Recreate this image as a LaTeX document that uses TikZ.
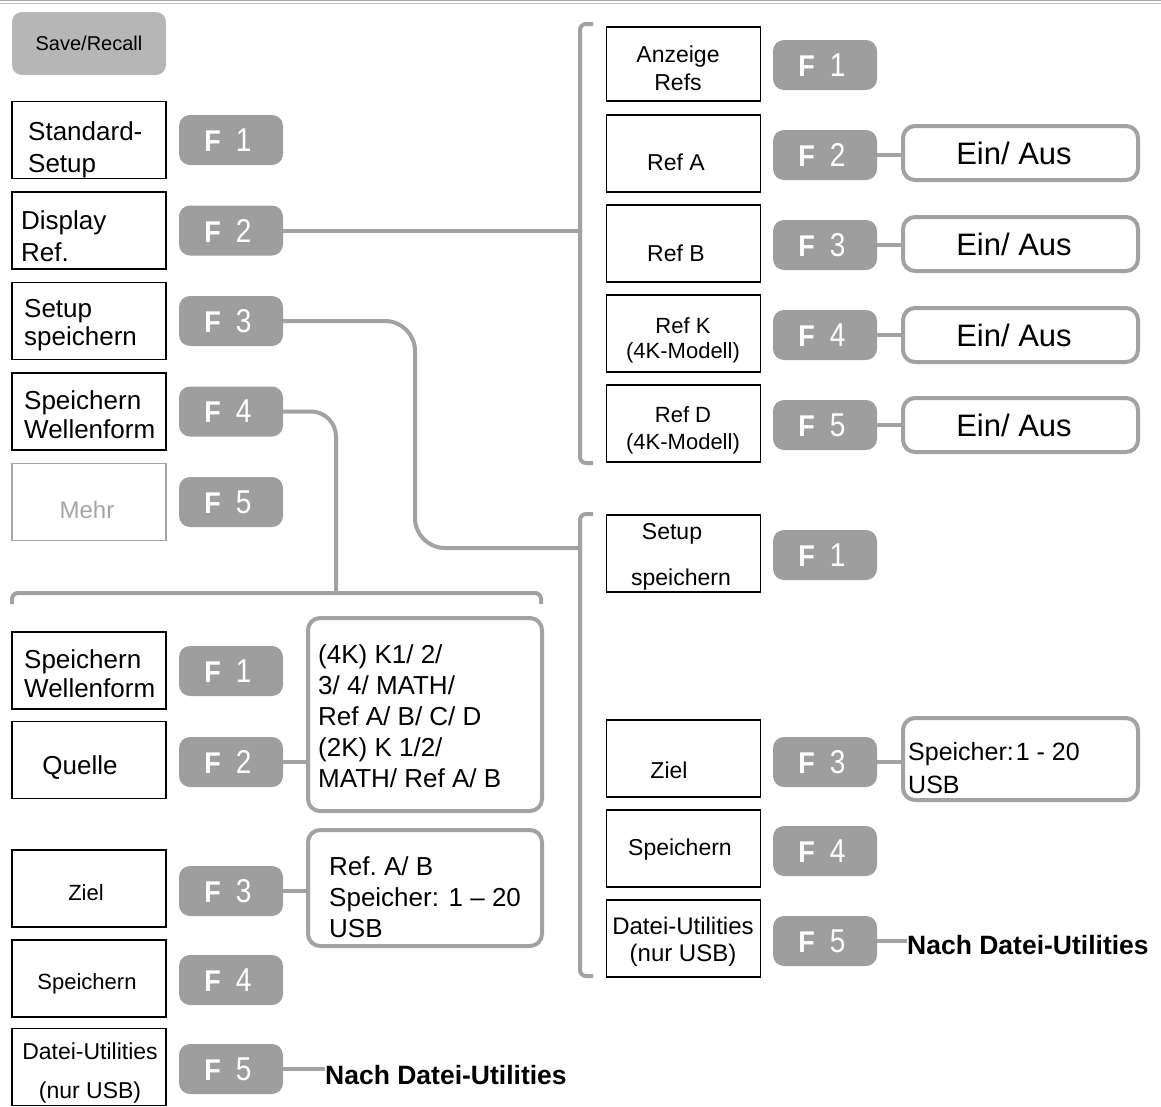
\documentclass[tikz,border=0pt]{standalone}
\usepackage{fontspec}
\setmainfont{Liberation Sans}
\usetikzlibrary{positioning,calc}

\definecolor{keygray}{RGB}{158,158,158}
\definecolor{linegray}{RGB}{162,162,162}
\definecolor{srgray}{RGB}{182,182,182}
\definecolor{mehrgray}{RGB}{165,165,165}

\tikzset{
  menubox/.style={draw=black, line width=1.6pt, minimum width=154pt, minimum height=77pt, inner sep=0pt},
  fkey/.style={fill=keygray, rounded corners=11pt, minimum width=104pt, minimum height=50pt, inner sep=0pt, text=white},
  optbox/.style={draw=linegray, line width=4pt, rounded corners=12pt, inner sep=0pt},
  link/.style={draw=linegray, line width=4pt},
  txt/.style={inner sep=0pt, font=\fontsize{26}{32}\selectfont},
  stxt/.style={inner sep=0pt, font=\fontsize{23}{28}\selectfont},
}
\newcommand{\fkey}[1]{\scalebox{0.9}[1]{\fontsize{30}{30}\selectfont\bfseries F}\hspace{15pt}\scalebox{0.85}[1]{\fontsize{33}{33}\selectfont #1}\hspace*{6pt}}

\begin{document}
\begin{tikzpicture}[x=1pt, y=-1pt]
\useasboundingbox (0,0) rectangle (1161,1106);

% Top rule
\draw[gray!70, line width=1pt] (0,0.5) -- (1161,0.5);
\draw[gray!50, line width=1pt] (0,3) -- (1161,3);

% Save/Recall key
\node[fill=srgray, rounded corners=10pt, minimum width=154pt, minimum height=63pt, inner sep=0pt,
  font=\fontsize{20}{20}\selectfont] (save) at (89,43.5) {Save/Recall};

% Main menu
\node[menubox] (m1) at (89,140) {};
\node[menubox] (m2) at (89,230.5) {};
\node[menubox] (m3) at (89,321) {};
\node[menubox] (m4) at (89,411.5) {};
\node[menubox, draw=mehrgray] (m5) at (89,502) {};
\node[txt, align=left, anchor=west] (t1) at (28,150) {Standard-\\ Setup};
\node[txt, align=left, anchor=west] (t2) at (21,236) {Display\\Ref.};
\node[txt, align=left, anchor=west, font=\fontsize{26}{28}\selectfont] (t3) at (24,325) {Setup\\speichern};
\node[txt, align=left, anchor=west, font=\fontsize{26}{29}\selectfont] (t4) at (24,415) {Speichern\\Wellenform};
\node[txt, text=mehrgray, font=\fontsize{24}{24}\selectfont] (t5) at (87,510) {Mehr};
\foreach \i/\y in {1/140,2/230.5,3/321,4/411.5,5/502}
  \node[fkey] (lf\i) at (231,\y) {\fkey{\i}};

% Display Ref. submenu
\node[menubox, minimum height=74pt] (r1) at (683.5,64) {};
\node[menubox] (r2) at (683.5,153.5) {};
\node[menubox] (r3) at (683.5,243.5) {};
\node[menubox] (r4) at (683.5,333.5) {};
\node[menubox] (r5) at (683.5,423.5) {};
\node[stxt, align=center] (rt1) at (678,68) {Anzeige\\Refs};
\node[stxt] (rt2) at (676,162) {Ref A};
\node[stxt] (rt3) at (676,253) {Ref B};
\node[stxt, align=center, font=\fontsize{22}{25}\selectfont] (rt4) at (683,340) {Ref K\\(4K-Modell)};
\node[stxt, align=center, font=\fontsize{22}{27}\selectfont] (rt5) at (683,430) {Ref D\\(4K-Modell)};
\foreach \i/\y in {1/65,2/155,3/245,4/335,5/425}
  \node[fkey] (rf\i) at (825,\y) {\fkey{\i}};
\foreach \i/\y in {2/153,3/244,4/335,5/425}
  \node[optbox, minimum width=235pt, minimum height=54pt, font=\fontsize{31}{31}\selectfont] (on\i) at (1020.5,\y) {Ein/ Aus\hspace*{13pt}};

% Setup speichern submenu
\node[menubox] (s1) at (683.5,553.5) {};
\node[menubox] (s3) at (683.5,758.5) {};
\node[menubox] (s4) at (683.5,848.5) {};
\node[menubox] (s5) at (683.5,938.5) {};
\node[stxt, align=center, font=\fontsize{23}{46}\selectfont] (st1) at (672,557) {Setup\\\hspace*{18pt}speichern};
\node[stxt] (st3) at (669,770) {Ziel};
\node[stxt] (st4) at (680,850) {Speichern};
\node[stxt, align=center, font=\fontsize{24}{27}\selectfont] (st5) at (683,942) {Datei-Utilities\\(nur USB)};
\foreach \i/\y in {1/555,3/762,4/851,5/941}
  \node[fkey] (sf\i) at (825,\y) {\fkey{\i}};
\node[optbox, minimum width=235pt, minimum height=82pt] (mem) at (1020.5,759) {};
\node[txt, align=left, anchor=west, font=\fontsize{25}{33}\selectfont] (memt) at (908,768) {Speicher:\hspace{2pt}1 - 20\\USB};
\node[inner sep=0pt, anchor=west, font=\fontsize{26.5}{26.5}\selectfont\bfseries] (go1) at (907,945) {Nach Datei-Utilities};

% Speichern Wellenform submenu
\node[menubox] (w1) at (89,670.5) {};
\node[menubox] (w2) at (89,760) {};
\node[menubox] (w3) at (89,888.5) {};
\node[menubox] (w4) at (89,978.5) {};
\node[menubox] (w5) at (89,1067) {};
\node[txt, align=left, anchor=west, font=\fontsize{26}{29}\selectfont] (wt1) at (24,674) {Speichern\\Wellenform};
\node[txt] (wt2) at (80,768) {Quelle};
\node[stxt, font=\fontsize{22}{22}\selectfont] (wt3) at (86,893) {Ziel};
\node[stxt, font=\fontsize{22}{22}\selectfont] (wt4) at (87,984) {Speichern};
\node[stxt, align=center, font=\fontsize{23}{39}\selectfont] (wt5) at (90,1073) {Datei-Utilities\\(nur USB)};
\foreach \i/\y in {1/671,2/762,3/891,4/980,5/1069}
  \node[fkey] (wf\i) at (231,\y) {\fkey{\i}};
\node[optbox, minimum width=234pt, minimum height=193pt] (src) at (425,714.5) {};
\node[txt, align=left, anchor=west, font=\fontsize{26}{31}\selectfont] (srct) at (318,716) {(4K) K1/ 2/\\3/ 4/ MATH/\\Ref A/ B/ C/ D\\(2K) K 1/2/\\MATH/ Ref A/ B};
\node[optbox, minimum width=234pt, minimum height=116pt] (dst) at (425,888) {};
\node[txt, align=left, anchor=west, font=\fontsize{26}{31}\selectfont] (dstt) at (329,897) {Ref.\ A/ B\\Speicher: 1 -- 20\\USB};
\node[inner sep=0pt, anchor=west, font=\fontsize{26.5}{26.5}\selectfont\bfseries] (go2) at (325,1075) {Nach Datei-Utilities};

% Brackets
\coordinate (b1t) at (580,24);
\coordinate (b1b) at (580,463);
\coordinate (b2t) at (580,514);
\coordinate (b2b) at (580,976);
\coordinate (b3l) at (12,593);
\coordinate (b3r) at (541,593);
\draw[link, rounded corners=6pt] ($(b1t)+(13,0)$) -- (b1t) -- (b1b) -- ($(b1b)+(13,0)$);
\draw[link, rounded corners=6pt] ($(b2t)+(13,0)$) -- (b2t) -- (b2b) -- ($(b2b)+(13,0)$);
\draw[link, rounded corners=6pt] ($(b3l)+(0,11)$) -- (b3l) -- (b3r) -- ($(b3r)+(0,11)$);

% Connectors
\coordinate (k3) at (415,430);
\coordinate (b2j) at (580,548);
\coordinate (b3j) at (336,593);
\draw[link] (lf2.east) -- (lf2.east -| b1t);
\draw[link, rounded corners=30pt] (lf3.east) -| (k3) |- (b2j);
\draw[link, rounded corners=25pt] (lf4.east) -| (b3j);
\foreach \i in {2,3,4,5}
  \draw[link] (rf\i.east) -- (rf\i.east -| on\i.west);
\draw[link] (sf3.east) -- (sf3.east -| mem.west);
\draw[link] (sf5.east) -- (sf5.east -| go1.west);
\draw[link] (wf2.east) -- (wf2.east -| src.west);
\draw[link] (wf3.east) -- (wf3.east -| dst.west);
\draw[link] (wf5.east) -- (wf5.east -| go2.west);

\end{tikzpicture}
\end{document}
